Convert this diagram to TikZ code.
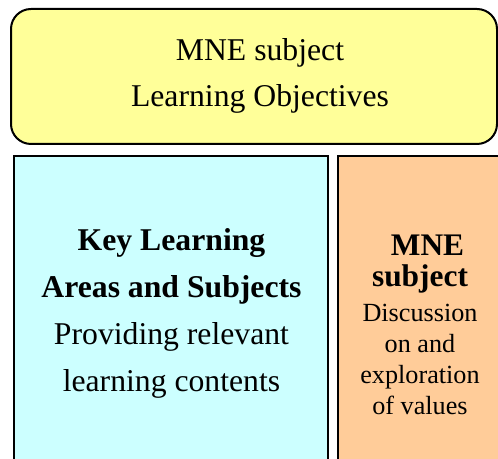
\documentclass[tikz,border=0pt]{standalone}
\usepackage{fontspec}
\setmainfont{Liberation Serif}
\usepackage{tikz}
\usetikzlibrary{positioning}
\usepackage{xcolor}
\definecolor{mneyellow}{HTML}{FFFF99}
\definecolor{klacyan}{HTML}{CCFFFF}
\definecolor{mneorange}{HTML}{FFCC99}
\tikzset{%
	every box/.style={
		draw=black,
		line width=1pt,
		inner sep=0pt
	},
	objective box/.style={
		every box,
		fill=mneyellow,
		rounded corners=10pt,
		minimum width=243pt,
		minimum height=67.5pt
	},
	kla box/.style={
		every box,
		fill=klacyan,
		minimum width=157pt,
		minimum height=162pt
	},
	value box/.style={
		every box,
		fill=mneorange,
		minimum width=91pt,
		minimum height=162pt
	},
	big text/.style={
		align=center,
		anchor=base,
		font=\fontsize{15.85}{23}\selectfont
	},
	small text/.style={
		align=center,
		anchor=base,
		font=\fontsize{13.1}{15.5}\selectfont
	},
}

\begin{document}
\begin{tikzpicture}[x=0.5pt, y=-0.5pt]
			\useasboundingbox (0,0) rectangle (498,459);
			
			% Learning objectives box on top
			\node[objective box] (obj) at (254,76.5) {};
			
			% KLA box, placed below the objectives box
			\node[kla box] (kla) [below right=5pt and 1.5pt of obj.south west] {};
			
			% MNE subject box, placed to the right of the KLA box
			\node[value box] (mne) [right=4pt of kla.north east, anchor=north west] {};
			
			% Texts of the three boxes (base = last line)
			\node[big text] (objtxt) at (260,107) {MNE subject\\Learning Objectives};
			\node[big text, font=\fontsize{15.85}{23.5}\selectfont] (klatxt) at (171.5,392) {\textbf{Key Learning}\\\textbf{Areas and Subjects}\\Providing relevant\\learning contents};
			\node[small text] (mnetxt) at (420,415) {\fontsize{15.7}{15}\selectfont\hspace*{7.5pt}\textbf{MNE}\\\fontsize{15.7}{15}\selectfont\textbf{subject}\\[2pt]Discussion\\on and\\exploration\\of values};
		\end{tikzpicture}
\end{document}
